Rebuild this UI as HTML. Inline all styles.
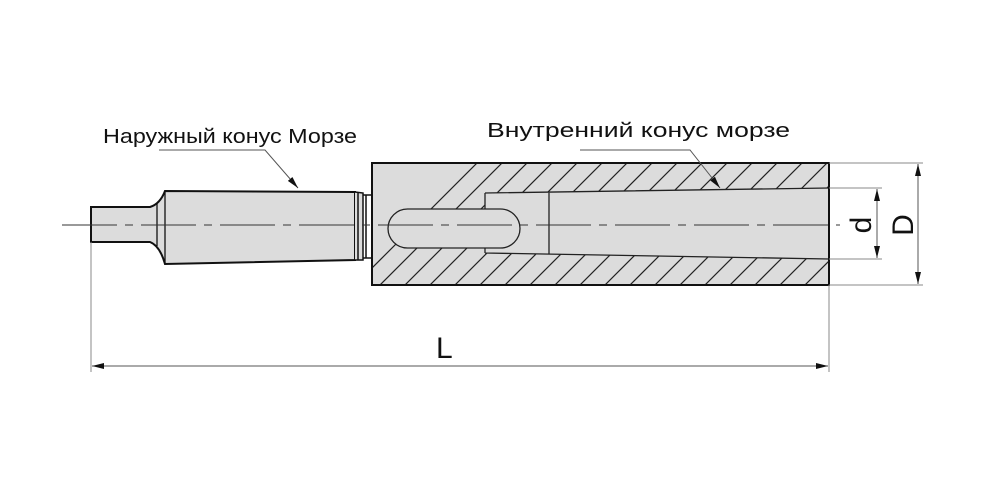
<!DOCTYPE html>
<html><head><meta charset="utf-8"><style>
html,body{margin:0;padding:0;background:#fff;}
svg{display:block}
text{font-family:"Liberation Sans",sans-serif;fill:#111}
</style></head><body>
<svg width="1000" height="500" viewBox="0 0 1000 500" xmlns="http://www.w3.org/2000/svg">
<defs>
<clipPath id="hc">
<path d="M372,163 H829 V188 L485,193 V253 L829,259 V285 H372 Z" clip-rule="evenodd"/>
</clipPath>
<marker id="ar" viewBox="0 0 12 6" refX="12" refY="3" markerWidth="12" markerHeight="6" orient="auto-start-reverse" markerUnits="userSpaceOnUse">
<path d="M0,0 L12,3 L0,6 Z" fill="#111"/>
</marker>
</defs>
<rect x="372" y="163" width="457" height="122" fill="#dcdcdc"/>
<g clip-path="url(#hc)" stroke="#222" stroke-width="1.2">
<path d="M340,300 L480,160 M365,300 L505,160 M390,300 L530,160 M415,300 L555,160 M440,300 L580,160 M465,300 L605,160 M490,300 L630,160 M515,300 L655,160 M540,300 L680,160 M565,300 L705,160 M590,300 L730,160 M615,300 L755,160 M640,300 L780,160 M665,300 L805,160 M690,300 L830,160 M715,300 L855,160 M740,300 L880,160 M765,300 L905,160 M790,300 L930,160 M815,300 L955,160"/>
</g>
<path d="M485,193 L829,188 M485,253 L829,259 M485,193 V253 M549,192 V254" stroke="#222" stroke-width="1.3" fill="none"/>
<rect x="388" y="209" width="132" height="39" rx="19.5" fill="#dcdcdc" stroke="#222" stroke-width="1.3"/>
<rect x="372" y="163" width="457" height="122" fill="none" stroke="#111" stroke-width="2"/>
<path d="M91,207 H150 Q160,204 165,191 L355,192 L355,260 L165,264 Q160,246 150,242 H91 Z" fill="#dcdcdc" stroke="#111" stroke-width="2"/>
<path d="M157,203 V246 M165,191 V264" stroke="#111" stroke-width="1.3"/>
<path d="M355,192 L363,193 V260 L355,260 M358,192 V260 M363,195 H372 M363,258 H372 M366,195 V258" fill="#dcdcdc" stroke="#111" stroke-width="1.5"/>
<path d="M62,225 H840" stroke="#333" stroke-width="1" stroke-dasharray="55,8,8,8"/>
<g stroke="#888" stroke-width="1">
<path d="M91,242 V372 M829,285 V372 M829,163 H923 M829,285 H923 M829,188 H882 M829,259 H882"/>
</g>
<g stroke="#555" stroke-width="1" fill="none">
<path d="M92,366 H828" marker-start="url(#ar)" marker-end="url(#ar)"/>
<path d="M918,164 V284" marker-start="url(#ar)" marker-end="url(#ar)"/>
<path d="M877,189 V258" marker-start="url(#ar)" marker-end="url(#ar)"/>
<path d="M159,150 H265 L298,188" marker-end="url(#ar)"/>
<path d="M580,150 H690 L720,188" marker-end="url(#ar)"/>
</g>
<text x="103" y="143" font-size="20" textLength="254" lengthAdjust="spacingAndGlyphs">Наружный конус Морзе</text>
<text x="487" y="137" font-size="20" textLength="303" lengthAdjust="spacingAndGlyphs">Внутренний конус морзе</text>
<text x="436" y="358" font-size="30">L</text>
<text transform="translate(871,225) rotate(-90)" text-anchor="middle" font-size="30">d</text>
<text transform="translate(913,225) rotate(-90)" text-anchor="middle" font-size="30">D</text>
</svg>
</body></html>
